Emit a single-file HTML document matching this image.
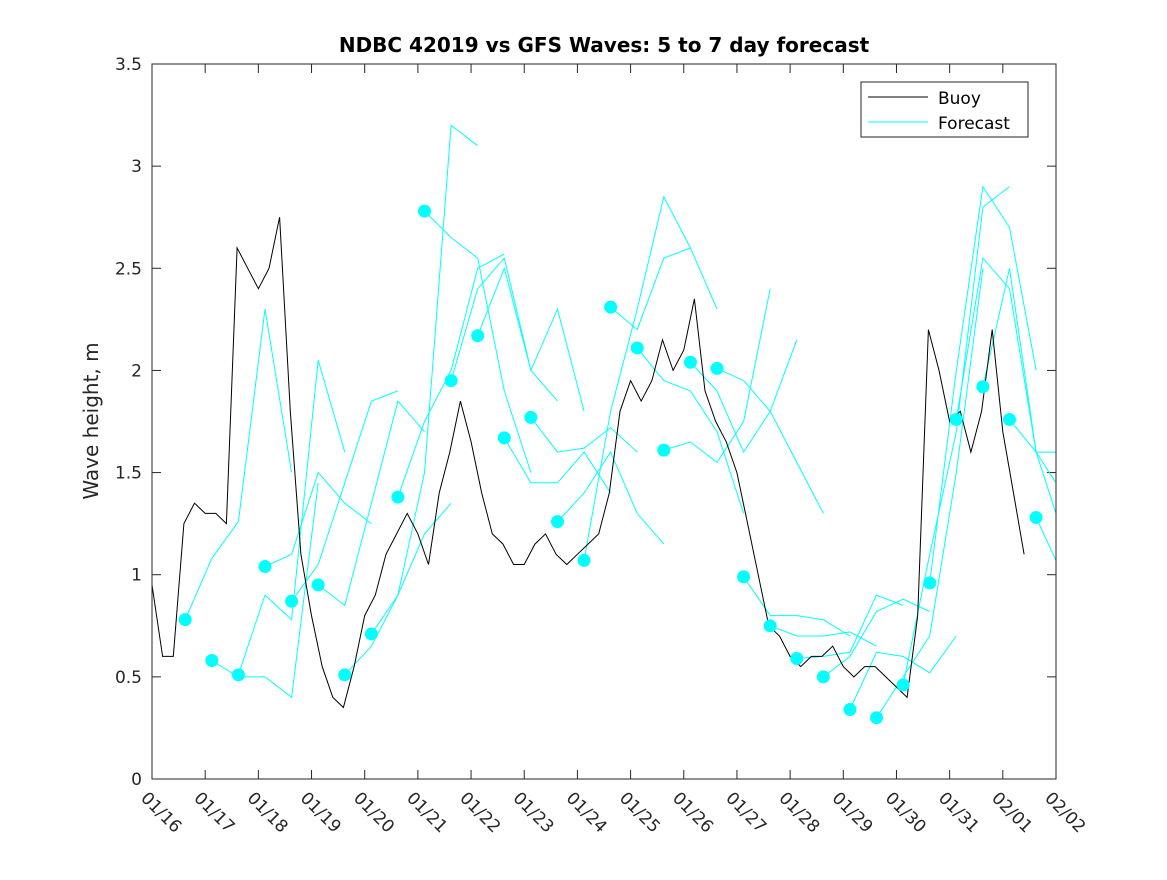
<!DOCTYPE html>
<html><head><meta charset="utf-8"><style>
body{margin:0;background:#fff;}
svg{font-family:"DejaVu Sans","Liberation Sans",sans-serif;}
</style></head><body>
<svg id="chart" width="1167" height="875" xmlns="http://www.w3.org/2000/svg">
<rect width="1167" height="875" fill="#fff"/>
<defs><clipPath id="clip"><rect x="152" y="64" width="904" height="715"/></clipPath></defs>
<text x="604" y="52" text-anchor="middle" font-size="20" font-weight="bold" fill="#000">NDBC 42019 vs GFS Waves: 5 to 7 day forecast</text>
<text transform="translate(98,421) rotate(-90)" text-anchor="middle" font-size="20" fill="#262626">Wave height, m</text>
<g id="grid"></g>
<g id="series" clip-path="url(#clip)"></g>
<rect x="152" y="64" width="904" height="715" fill="none" stroke="#262626" stroke-width="1"/>
<g>
<rect x="861" y="82" width="167" height="55" fill="#fff" stroke="#262626" stroke-width="1"/>
<line x1="868" y1="97" x2="928" y2="97" stroke="#000" stroke-width="1"/>
<text x="938" y="104" font-size="17" fill="#000">Buoy</text>
<line x1="868" y1="122" x2="928" y2="122" stroke="#00ffff" stroke-width="1"/>
<text x="938" y="129" font-size="17" fill="#000">Forecast</text>
</g>
</svg>
<script>
const xTickLabels=["01/16","01/17","01/18","01/19","01/20","01/21","01/22","01/23","01/24","01/25","01/26","01/27","01/28","01/29","01/30","01/31","02/01","02/02"];
const yTicks=[0,0.5,1,1.5,2,2.5,3,3.5];
const buoyStep=0.2;
const buoyValues=[0.95,0.6,0.6,1.25,1.35,1.3,1.3,1.25,2.6,2.5,2.4,2.5,2.75,1.8,1.1,0.8,0.55,0.4,0.35,0.55,0.8,0.9,1.1,1.2,1.3,1.2,1.05,1.4,1.6,1.85,1.65,1.4,1.2,1.15,1.05,1.05,1.15,1.2,1.1,1.05,1.1,1.15,1.2,1.4,1.8,1.95,1.85,1.95,2.15,2.0,2.1,2.35,1.9,1.75,1.65,1.5,1.25,1.0,0.75,0.7,0.6,0.55,0.6,0.6,0.65,0.55,0.5,0.55,0.55,0.5,0.45,0.4,0.8,2.2,2.0,1.75,1.8,1.6,1.8,2.2,1.7,1.4,1.1];
const fcFirstDay=0.625;
const fcSpacing=0.5;
const fcStepDays=0.5;
const fcStart=[0.78,0.58,0.51,1.04,0.87,0.95,0.51,0.71,1.38,2.78,1.95,2.17,1.67,1.77,1.26,1.07,2.31,2.11,1.61,2.04,2.01,0.99,0.75,0.59,0.50,0.34,0.30,0.46,0.96,1.76,1.92,1.76,1.28];
const fcTail=[[1.08,1.26,2.3,1.5],[0.5,0.5,0.4,1.45],[0.9,0.78,2.05,1.6],[1.1,1.5,1.35,1.25],[1.05,1.45,1.85,1.9],[0.85,1.35,1.85,1.7],[0.65,0.9,1.2,1.35],[0.9,1.5,3.2,3.1],[1.75,2.0,2.5,2.57],[2.65,2.55,1.9,1.5],[2.4,2.55,2.0,1.85],[2.5,2.0,2.3,1.8],[1.45,1.45,1.6,1.4],[1.6,1.62,1.72,1.6],[1.4,1.6,1.3,1.15],[1.8,2.3,2.85,2.6],[2.2,2.55,2.6,2.3],[1.95,1.9,1.7,1.3],[1.65,1.55,1.75,2.4],[1.9,1.6,1.8,2.15],[1.95,1.8,1.55,1.3],[0.8,0.8,0.78,0.7],[0.7,0.7,0.72,0.65],[0.6,0.62,0.9,0.85],[0.6,0.82,0.88,0.82],[0.62,0.6,0.52,0.7],[0.5,0.7,1.5,2.5],[1.1,1.7,2.8,2.9],[2.0,2.9,2.7,2.0],[2.55,2.4,1.6,1.4],[2.5,1.6,1.2,1.0],[1.6,1.6,1.5,1.4],[1.0,0.8,0.7,0.7]];

const X0=152,X1=1056,Y0=779,Y1=64;
const xs=d=>X0+d*(X1-X0)/(xTickLabels.length-1);
const ys=v=>Y0-v*(Y0-Y1)/3.5;
const NS="http://www.w3.org/2000/svg";
const grid=document.getElementById('grid');
const ser=document.getElementById('series');
function mk(t,a,p){const e=document.createElementNS(NS,t);for(const k in a)e.setAttribute(k,a[k]);p.appendChild(e);return e;}
yTicks.forEach(v=>{
 const y=ys(v);
 const t=mk('line',{x1:X0,x2:X0+9,y1:y,y2:y,stroke:'#262626'},grid);
 
 
 mk('line',{x1:X1-9,x2:X1,y1:y,y2:y,stroke:'#262626'},grid);
 const l=mk('text',{x:X0-10,y:y+6,'text-anchor':'end','font-size':17,fill:'#262626'},grid);
 l.textContent=String(v);
 
 
});
xTickLabels.forEach((s,i)=>{
 const x=xs(i);
 const t=mk('line',{x1:x,x2:x,y1:Y0,y2:Y0-9,stroke:'#262626'},grid);
 
 
 mk('line',{x1:x,x2:x,y1:Y1,y2:Y1+9,stroke:'#262626'},grid);
 const l=mk('text',{transform:`translate(${x-12},${Y0+20}) rotate(45)`,'font-size':17,fill:'#262626'},grid);
 l.textContent=s;
 
 
});
fcStart.forEach((v0,k)=>{
 const d0=fcFirstDay+k*fcSpacing;
 const vals=[v0].concat(fcTail[k]);
 const pts=vals.map((v,j)=>xs(d0+j*fcStepDays).toFixed(1)+','+ys(v).toFixed(1)).join(' ');
 const pl=mk('polyline',{points:pts,fill:'none',stroke:'#00ffff','stroke-width':1},ser);
 
 
});
const bp=buoyValues.map((v,i)=>xs(i*buoyStep).toFixed(1)+','+ys(v).toFixed(1)).join(' ');
const bl=mk('polyline',{points:bp,fill:'none',stroke:'#000','stroke-width':1},ser);


fcStart.forEach((v,k)=>{
 const c=mk('circle',{cx:xs(fcFirstDay+k*fcSpacing),cy:ys(v),r:6.5,fill:'#00ffff'},ser);
 
 
});
</script>
</body></html>
